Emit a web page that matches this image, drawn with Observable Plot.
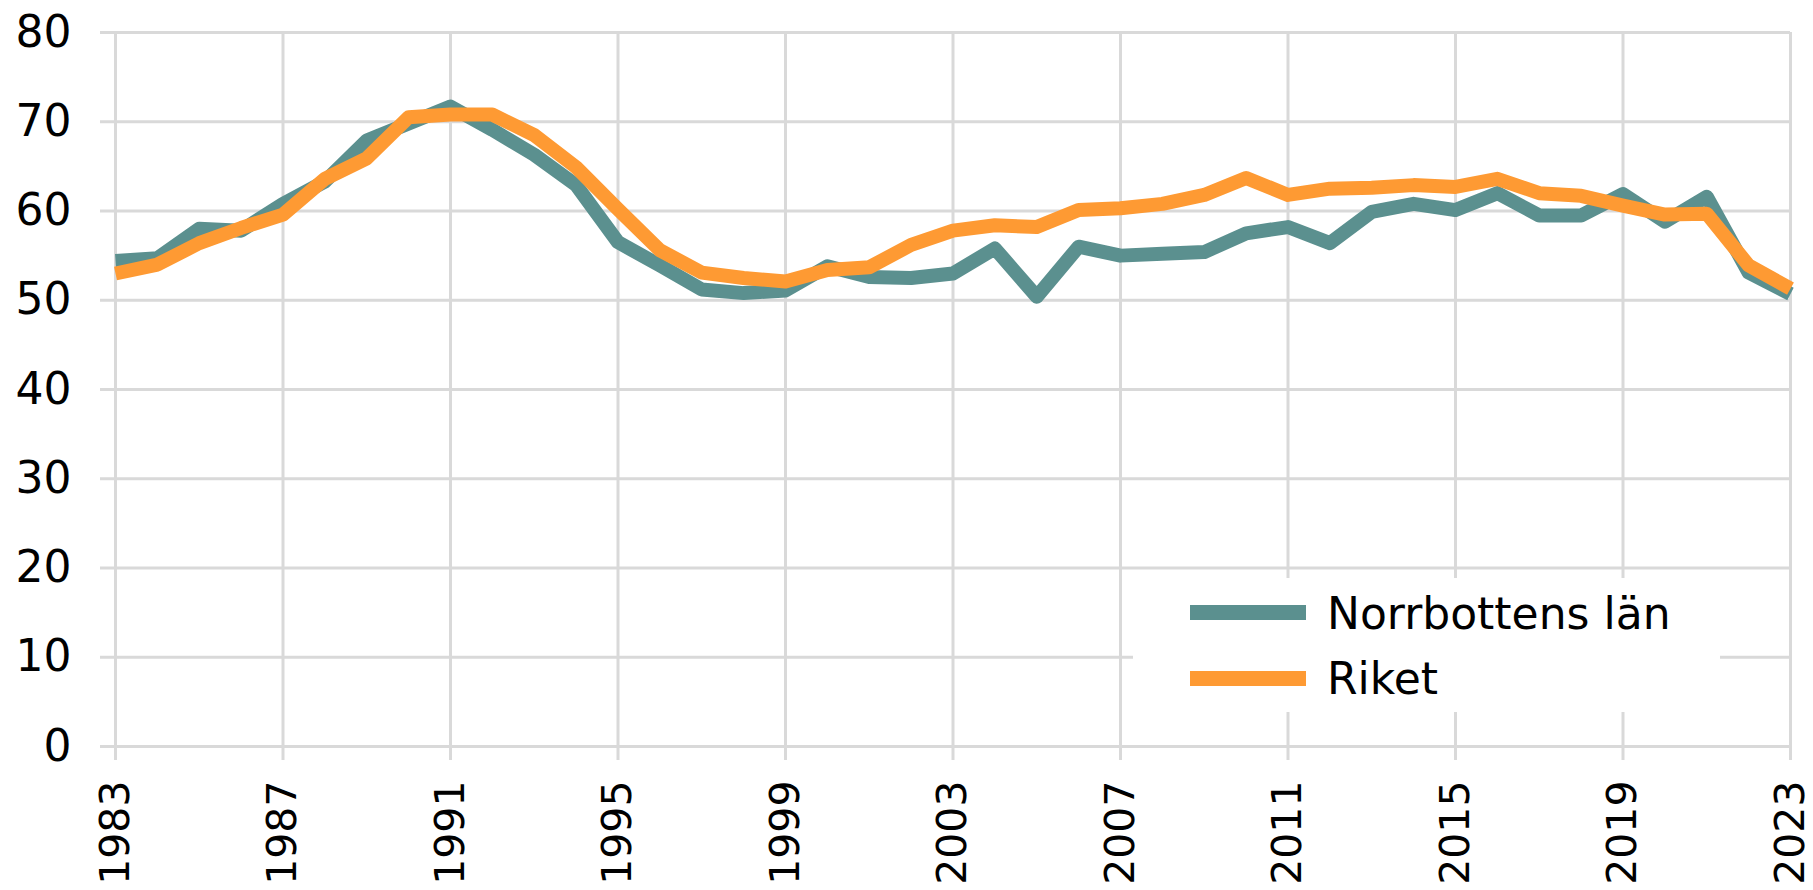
<!DOCTYPE html>
<html>
<head>
<meta charset="utf-8">
<script src="https://cdn.jsdelivr.net/npm/d3@7"></script>
<script src="https://cdn.jsdelivr.net/npm/@observablehq/plot@0.6"></script>
<style>
html, body { margin: 0; padding: 0; background: #fff; }
#wrap { position: relative; width: 1813px; height: 890px; overflow: hidden; font-family: "DejaVu Sans", Verdana, sans-serif; }
#legend { position: absolute; left: 1133px; top: 578px; width: 587px; height: 134px; background: #fff; }
.sw { position: absolute; left: 57px; width: 116px; height: 15px; }
.lt { position: absolute; left: 194px; font-size: 44px; line-height: 44px; color: #000; white-space: nowrap; }
</style>
</head>
<body>
<div id="wrap"></div>
<script>
const years = [1983,1984,1985,1986,1987,1988,1989,1990,1991,1992,1993,1994,1995,1996,1997,1998,1999,2000,2001,2002,2003,2004,2005,2006,2007,2008,2009,2010,2011,2012,2013,2014,2015,2016,2017,2018,2019,2020,2021,2022,2023];
const norrbotten = [54.4,54.7,58.0,57.8,60.8,63.3,67.9,69.8,71.7,69.1,66.3,62.9,56.5,53.9,51.2,50.8,51.1,53.8,52.6,52.5,53.0,55.8,50.4,56.0,55.0,55.2,55.4,57.5,58.2,56.4,59.9,60.8,60.1,62.0,59.5,59.5,61.9,58.8,61.6,53.1,50.7];
const riket = [53.0,54.0,56.4,58.1,59.6,63.6,65.9,70.5,70.8,70.8,68.5,64.9,60.2,55.6,53.1,52.5,52.1,53.4,53.7,56.2,57.8,58.4,58.2,60.1,60.3,60.8,61.8,63.7,61.8,62.5,62.6,62.9,62.7,63.6,62.0,61.7,60.6,59.6,59.7,53.9,51.3];
const seriesNames = ["Norrbottens län", "Riket"];
const seriesColors = ["#5b908f", "#fe9a33"];
const yTicks = [0,10,20,30,40,50,60,70,80];
const xTicks = [1983,1987,1991,1995,1999,2003,2007,2011,2015,2019,2023];

const dataN = years.map((y, i) => ({year: y, value: norrbotten[i]}));
const dataR = years.map((y, i) => ({year: y, value: riket[i]}));

const grid = "#d9d9d9";
const chart = Plot.plot({
  width: 1813,
  height: 890,
  marginLeft: 115,
  marginRight: 23,
  marginTop: 32,
  marginBottom: 144,
  style: {fontFamily: "'DejaVu Sans', Verdana, sans-serif", fontSize: "44px", color: "#000", background: "#fff", overflow: "visible"},
  x: {domain: [1983, 2023], label: null},
  y: {domain: [0, 80], label: null},
  marks: [
    Plot.gridX(xTicks, {stroke: grid, strokeOpacity: 1, strokeWidth: 3}),
    Plot.gridY(yTicks, {stroke: grid, strokeOpacity: 1, strokeWidth: 3}),
    Plot.axisY(yTicks, {label: null, tickSize: 15, tickPadding: 29, stroke: grid, strokeWidth: 3, strokeOpacity: 1, fill: "#000", tickFormat: d => String(d)}),
    Plot.axisX(xTicks, {label: null, fontSize: 41, tickSize: 14, tickPadding: 20, tickRotate: -90, stroke: grid, strokeWidth: 3, strokeOpacity: 1, fill: "#000", tickFormat: d => String(d)}),
    Plot.line(dataN, {x: "year", y: "value", stroke: seriesColors[0], strokeWidth: 14, strokeLinejoin: "round", strokeLinecap: "butt"}),
    Plot.line(dataR, {x: "year", y: "value", stroke: seriesColors[1], strokeWidth: 14, strokeLinejoin: "round", strokeLinecap: "butt"})
  ]
});

const wrap = document.getElementById("wrap");
wrap.appendChild(chart);

const legend = document.createElement("div");
legend.id = "legend";
seriesNames.forEach((name, i) => {
  const sw = document.createElement("div");
  sw.className = "sw";
  sw.style.top = (27 + i * 66) + "px";
  sw.style.background = seriesColors[i];
  legend.appendChild(sw);
  const t = document.createElement("div");
  t.className = "lt";
  t.style.top = (14 + i * 65) + "px";
  t.textContent = name;
  legend.appendChild(t);
});
wrap.appendChild(legend);
</script>
</body>
</html>
